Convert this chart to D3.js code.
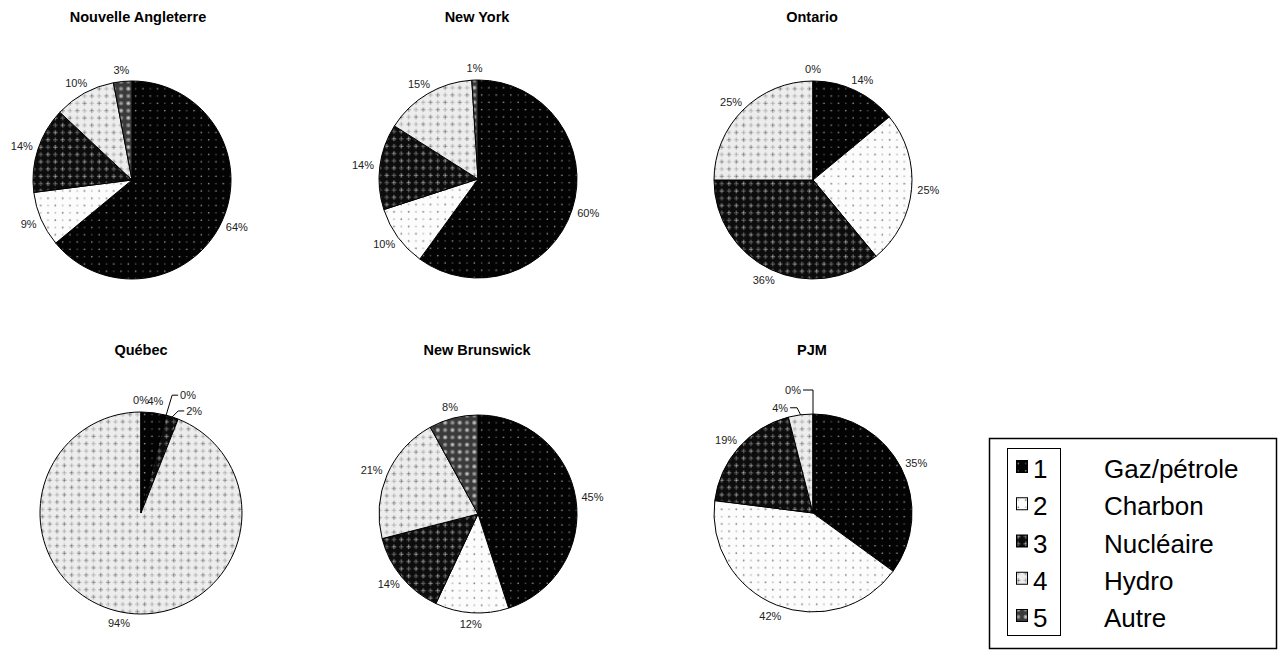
<!DOCTYPE html>
<html>
<head>
<meta charset="utf-8">
<script src="https://cdn.jsdelivr.net/npm/d3@7"></script>
<style>
  body { margin: 0; background: #fff; }
  svg { display: block; }
  text { -webkit-font-smoothing: antialiased; }
</style>
</head>
<body>
<svg id="chart" width="1280" height="652"></svg>
<script>
// ---- data ----
const categories = ["Gaz/pétrole", "Charbon", "Nucléaire", "Hydro", "Autre"];
const categoryCodes = ["1", "2", "3", "4", "5"];
const regions = ["Nouvelle Angleterre", "New York", "Ontario", "Québec", "New Brunswick", "PJM"];

// production mix per region (%), in category order
const shareNouvelleAngleterre = [64, 9, 14, 10, 3];
const shareNewYork            = [60, 10, 14, 15, 1];
const shareOntario            = [14, 25, 36, 25, 0];
const shareQuebec             = [4, 0, 2, 94, 0];
const shareNewBrunswick       = [45, 12, 14, 21, 8];
const sharePJM                = [35, 42, 19, 4, 0];
const regionShares = [shareNouvelleAngleterre, shareNewYork, shareOntario,
                      shareQuebec, shareNewBrunswick, sharePJM];

// ---- layout ----
const FONT = "'Liberation Sans', Arial, Helvetica, sans-serif";
const panels = [
  { cx: 132, cy: 180, r: 99,  titleX: 138, titleY: 22 },
  { cx: 478, cy: 179, r: 99,  titleX: 477, titleY: 22 },
  { cx: 813, cy: 180, r: 99,  titleX: 812, titleY: 22 },
  { cx: 141, cy: 513, r: 101, titleX: 141, titleY: 355 },
  { cx: 478, cy: 514, r: 99,  titleX: 477, titleY: 355 },
  { cx: 813, cy: 513, r: 99,  titleX: 812, titleY: 355 }
];
// thin slices labelled through a bent leader line (panel index, category index, offsets from slice edge)
const callouts = [
  { panel: 3, cat: 1, elbow: [6, -20],  text: [14, -20], anchor: "start" },
  { panel: 3, cat: 2, elbow: [6, -6],   text: [14, -6],  anchor: "start" },
  { panel: 5, cat: 4, elbow: [0, -24],  text: [-12, -24], anchor: "end" },
  { panel: 5, cat: 3, elbow: [-3.5, -7], text: [-12.5, -7], anchor: "end" }
];

const svg = d3.select("#chart");
const defs = svg.append("defs");

// ---- fill patterns (one per category) ----
const S = 7.3;
function cellCenters() {
  return [[S / 2, S / 2, 0], [S * 1.5, S / 2, 1], [S / 2, S * 1.5, 1], [S * 1.5, S * 1.5, 0]];
}
function makePattern(id, bg, drawCell) {
  const p = defs.append("pattern")
    .attr("id", id)
    .attr("patternUnits", "userSpaceOnUse")
    .attr("width", S * 2).attr("height", S * 2);
  p.append("rect").attr("width", S * 2).attr("height", S * 2).attr("fill", bg);
  cellCenters().forEach(([x, y, k]) => drawCell(p, x, y, k));
}
function flower(g, x, y, d, pr, petal, cr, center) {
  [[d, 0], [-d, 0], [0, d], [0, -d]].forEach(([dx, dy]) =>
    g.append("circle").attr("cx", x + dx).attr("cy", y + dy).attr("r", pr).attr("fill", petal));
  g.append("circle").attr("cx", x).attr("cy", y).attr("r", cr).attr("fill", center);
}

makePattern("pat-0", "#030303", (g, x, y, k) => {
  g.append("circle").attr("cx", x).attr("cy", y).attr("r", 0.8)
    .attr("fill", k === 0 ? "#b0b0b0" : "#606060");
});
makePattern("pat-1", "#fcfcfc", (g, x, y, k) => {
  g.append("circle").attr("cx", x).attr("cy", y).attr("r", 0.9)
    .attr("fill", k === 0 ? "#858585" : "#c0c0c0");
});
makePattern("pat-2", "#0c0c0c", (g, x, y, k) => {
  flower(g, x, y, 1.5, 0.85, k === 0 ? "#727272" : "#585858", 0.65, k === 0 ? "#e6e6e6" : "#9a9a9a");
});
makePattern("pat-3", "#ededed", (g, x, y, k) => {
  flower(g, x, y, 1.5, 0.85, k === 0 ? "#a8a8a8" : "#c2c2c2", 0.65, k === 0 ? "#404040" : "#8e8e8e");
});
makePattern("pat-4", "#3a3a3a", (g, x, y, k) => {
  g.append("circle").attr("cx", x).attr("cy", y).attr("r", 2.2).attr("fill", k === 0 ? "#8e8e8e" : "#777");
  g.append("circle").attr("cx", x).attr("cy", y).attr("r", 1.0).attr("fill", k === 0 ? "#d0d0d0" : "#a8a8a8");
});

// ---- pies ----
const pie = d3.pie().sort(null).value(d => d.value);

regions.forEach((name, i) => {
  const P = panels[i];
  const data = regionShares[i].map((v, c) => ({ value: v, cat: c }));
  const arcs = pie(data);
  const arc = d3.arc().innerRadius(0).outerRadius(P.r);

  const g = svg.append("g").attr("transform", `translate(${P.cx},${P.cy})`);

  g.selectAll("path.slice")
    .data(arcs)
    .join("path")
    .attr("class", "slice")
    .attr("d", arc)
    .attr("fill", d => `url(#pat-${d.data.cat})`)
    .attr("stroke", "#000")
    .attr("stroke-width", 1)
    .attr("stroke-linejoin", "round");

  svg.append("text")
    .attr("x", P.titleX).attr("y", P.titleY)
    .attr("text-anchor", "middle")
    .attr("font-family", FONT).attr("font-weight", "bold").attr("font-size", 14.5)
    .attr("fill", "#000")
    .text(name);

  // percent labels just outside the rim
  const calloutCats = callouts.filter(c => c.panel === i).map(c => c.cat);
  arcs.forEach(d => {
    if (calloutCats.includes(d.data.cat)) return;
    const mid = (d.startAngle + d.endAngle) / 2;
    const ux = Math.sin(mid), uy = -Math.cos(mid);
    const txt = d3.format(".0f")(d.data.value) + "%";
    const w = txt.length * 6.6, h = 11;
    const px = (P.r + 7) * ux, py = (P.r + 6) * uy;
    g.append("text")
      .attr("x", px + ux * w / 2)
      .attr("y", py + uy * h / 2)
      .attr("dy", "0.35em")
      .attr("text-anchor", "middle")
      .attr("font-family", FONT).attr("font-size", 11)
      .attr("fill", "#222")
      .text(txt);
  });

  // leader-line labels for the slivers
  callouts.filter(c => c.panel === i).forEach(c => {
    const d = arcs[c.cat];
    const mid = (d.startAngle + d.endAngle) / 2;
    const ex = P.r * Math.sin(mid), ey = -P.r * Math.cos(mid);
    const tx = ex + c.text[0], ty = ey + c.text[1];
    const start = c.anchor === "start" ? tx - 2 : tx + 2;
    g.append("path")
      .attr("d", d3.line()([[start, ty], [ex + c.elbow[0], ey + c.elbow[1]], [ex, ey]]))
      .attr("fill", "none").attr("stroke", "#000").attr("stroke-width", 1);
    g.append("text")
      .attr("x", tx).attr("y", ty).attr("dy", "0.35em")
      .attr("text-anchor", c.anchor)
      .attr("font-family", FONT).attr("font-size", 11)
      .attr("fill", "#222")
      .text(d3.format(".0f")(d.data.value) + "%");
  });
});

// ---- legend ----
const legend = svg.append("g");
legend.append("rect")
  .attr("x", 989.5).attr("y", 438.5).attr("width", 287).attr("height", 210)
  .attr("fill", "#fff").attr("stroke", "#000").attr("stroke-width", 1.5);
legend.append("rect")
  .attr("x", 1007.5).attr("y", 448.5).attr("width", 53).attr("height", 187)
  .attr("fill", "none").attr("stroke", "#000").attr("stroke-width", 1);

const rowY = d3.scalePoint().domain(d3.range(categories.length)).range([478, 627]);
categories.forEach((label, c) => {
  const y = rowY(c);
  legend.append("rect")
    .attr("x", 1016.5).attr("y", y - 17.5).attr("width", 11).attr("height", 12)
    .attr("fill", `url(#pat-${c})`).attr("stroke", "#000").attr("stroke-width", 1);
  legend.append("text")
    .attr("x", 1033).attr("y", y)
    .attr("font-family", FONT).attr("font-size", 26).attr("fill", "#000")
    .text(categoryCodes[c]);
  legend.append("text")
    .attr("x", 1104).attr("y", y)
    .attr("font-family", FONT).attr("font-size", 26).attr("fill", "#000")
    .text(label);
});
</script>
</body>
</html>
